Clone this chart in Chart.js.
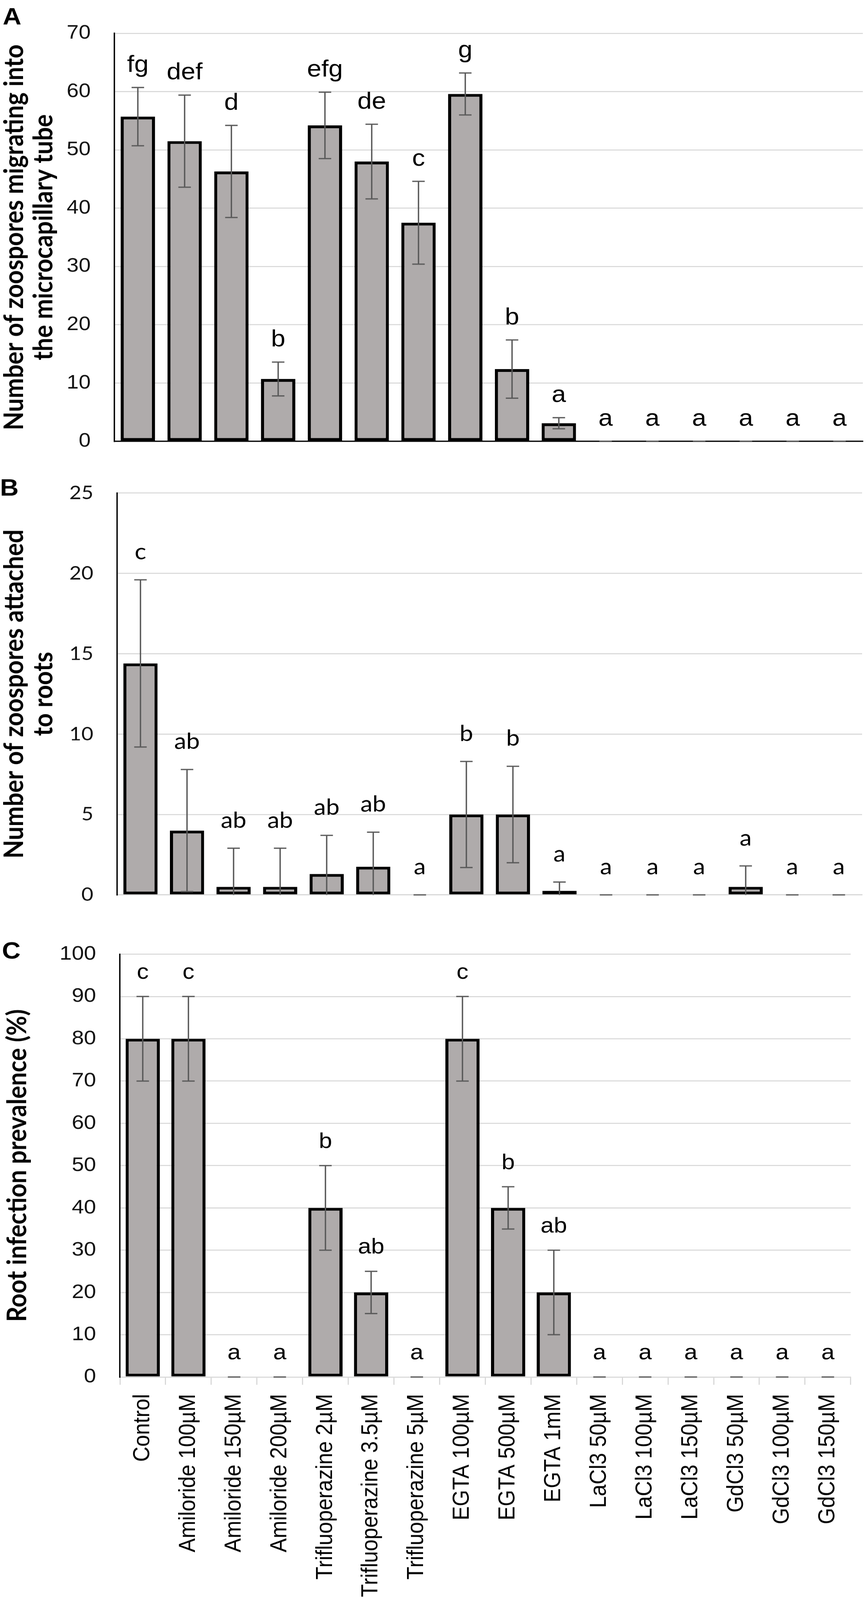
<!DOCTYPE html>
<html><head><meta charset="utf-8">
<script src="https://cdn.jsdelivr.net/npm/chart.js@4.4.1/dist/chart.umd.min.js"></script>
<style>
html,body{margin:0;padding:0;background:#fff;}
body{width:2217px;position:relative;overflow:hidden;}
canvas{position:absolute;left:0;}
</style></head><body>
<canvas id="cA"></canvas>
<canvas id="cB"></canvas>
<canvas id="cC"></canvas>
<script>
// ---------- data ----------
const categories = ['Control','Amiloride 100µM','Amiloride 150µM','Amiloride 200µM','Trifluoperazine 2µM','Trifluoperazine 3.5µM','Trifluoperazine 5µM','EGTA 100µM','EGTA 500µM','EGTA 1mM','LaCl3 50µM','LaCl3 100µM','LaCl3 150µM','GdCl3 50µM','GdCl3 100µM','GdCl3 150µM'];

const migration    = [55.7, 51.5, 46.3, 10.7, 54.2, 48.0, 37.5, 59.6, 12.4, 3.1, 0, 0, 0, 0, 0, 0];
const migrationErr = [5.0, 7.9, 7.9, 2.9, 5.7, 6.4, 7.1, 3.6, 5.0, 0.95, 0, 0, 0, 0, 0, 0];
const migrationLetters = ['fg','def','d','b','efg','de','c','g','b','a','a','a','a','a','a','a'];

const attachment    = [14.4, 4.0, 0.5, 0.5, 1.3, 1.75, 0, 5.0, 5.0, 0.25, 0, 0, 0, 0.5, 0, 0];
const attachmentErr = [5.2, 3.8, 2.4, 2.4, 2.4, 2.15, 0, 3.3, 3.0, 0.55, 0, 0, 0, 1.3, 0, 0];
const attachmentLetters = ['c','ab','ab','ab','ab','ab','a','b','b','a','a','a','a','a','a','a'];

const infection    = [80, 80, 0, 0, 40, 20, 0, 80, 40, 20, 0, 0, 0, 0, 0, 0];
const infectionErr = [10, 10, 0, 0, 10, 5, 0, 10, 5, 10, 0, 0, 0, 0, 0, 0];
const infectionLetters = ['c','c','a','a','b','ab','a','c','b','ab','a','a','a','a','a','a'];

const yTicksA = { max: 70, step: 10 };
const yTicksB = { max: 25, step: 5 };
const yTicksC = { max: 100, step: 10 };

const titleA = ['Number of zoospores migrating into', 'the microcapillary tube'];
const titleB = ['Number of zoospores attached', 'to roots'];
const titleC = 'Root infection prevalence (%)';

// ---------- page fit (the window may be shorter than the figure) ----------
const FULL_W = 2217, FULL_H = 4519;
const K = Math.min(1, (window.innerHeight || FULL_H) / FULL_H);
document.body.style.height = Math.floor(FULL_H * K) + 'px';
function place(id, top, h) {
  const c = document.getElementById(id);
  c.width = FULL_W; c.height = h;
  c.style.top = (top * K) + 'px';
  c.style.width = FULL_W + 'px';
  c.style.height = (h * K) + 'px';
}
place('cA', 0, 1340);
place('cB', 1300, 1320);
place('cC', 2600, 1919);

// ---------- font sizing so text lengths match the figure ----------
const SANS = 'Liberation Sans';
const mctx = document.createElement('canvas').getContext('2d');
function measure(font, s) { mctx.font = font; return mctx.measureText(s).width; }
const longest = 'Trifluoperazine 3.5µM';
const xSize = Math.max(50, Math.min(62, 59 * 574 / measure('59px "' + SANS + '"', longest)));
const xLabelFont = { family: SANS, size: xSize };
function titleSize(s, target) {
  return Math.max(54, Math.min(68, 62 * target / measure('bold 62px Lato', s)));
}
const titleSizeA = titleSize(titleA[0], 1120);
const titleSizeB = titleSize(titleB[0], 948);
const titleSizeC = titleSize(titleC, 916);

// ---------- styling ----------
const BAR = '#AFABAB';
const GRID = '#D9D9D9';

const errPlugin = {
  id: 'errbars',
  afterDatasetsDraw(chart, args, o) {
    const ctx = chart.ctx, xs = chart.scales.x, ys = chart.scales.y;
    ctx.save();
    ctx.strokeStyle = '#595959';
    ctx.lineWidth = 3.5;
    o.values.forEach((v, i) => {
      const px = xs.getPixelForValue(i);
      const e = o.errors[i];
      const yt = ys.getPixelForValue(v + e);
      const low = v - e;
      const yb = ys.getPixelForValue(Math.max(low, 0));
      ctx.beginPath();
      ctx.moveTo(px - 16, yt); ctx.lineTo(px + 16, yt);
      if (e > 0) {
        ctx.moveTo(px, yt); ctx.lineTo(px, yb);
        if (low > 0) { ctx.moveTo(px - 16, yb); ctx.lineTo(px + 16, yb); }
      }
      ctx.stroke();
      ctx.fillStyle = '#000';
      ctx.font = o.font;
      ctx.textAlign = 'center';
      ctx.textBaseline = 'alphabetic';
      ctx.fillText(o.letters[i], px, yt - o.gap);
    });
    ctx.restore();
  },
  afterDraw(chart, args, o) {
    const ctx = chart.ctx;
    ctx.save();
    ctx.fillStyle = '#000';
    ctx.font = 'bold 66px "Liberation Sans", Arial, sans-serif';
    ctx.textAlign = 'left';
    ctx.textBaseline = 'alphabetic';
    ctx.fillText(o.panel, o.panelX, o.panelY);
    ctx.restore();
  }
};

function makeChart(id, c) {
  return new Chart(document.getElementById(id), {
    type: 'bar',
    data: {
      labels: categories,
      datasets: [{
        data: c.values,
        backgroundColor: BAR,
        borderColor: '#000',
        borderWidth: 8,
        borderSkipped: false,
        barPercentage: c.barPct,
        categoryPercentage: 1
      }]
    },
    options: {
      responsive: false,
      devicePixelRatio: 1,
      animation: false,
      layout: { padding: { top: c.padTop, bottom: c.padBottom, left: 0, right: c.padRight } },
      plugins: {
        legend: { display: false },
        tooltip: { enabled: false },
        errbars: { values: c.values, errors: c.errors, letters: c.letters, font: c.letterFont, gap: c.gap,
                   panel: c.panel, panelX: c.panelX, panelY: c.panelY }
      },
      scales: {
        x: c.xScale,
        y: {
          min: 0, max: c.ticks.max,
          ticks: { stepSize: c.ticks.step, padding: 61, font: c.tickFont, color: '#111' },
          grid: { color: (ctx) => (ctx.tick && ctx.tick.value === 0) ? 'rgba(0,0,0,0)' : GRID, lineWidth: 3, drawTicks: false },
          border: { display: true, color: '#000', width: 3.5 },
          title: { display: true, text: c.title, color: '#000', padding: { top: c.titlePad, bottom: 0 },
                   font: { family: 'Lato', weight: 'bold', size: c.titleSize, lineHeight: 75 / c.titleSize } },
          afterFit: (s) => { s.width = c.left; }
        }
      }
    },
    plugins: [errPlugin]
  });
}

const hiddenX = (col) => ({
  ticks: { display: false },
  grid: { display: false },
  border: { display: true, color: col, width: 3.5 },
  afterFit: (s) => { s.height = 0; }
});

makeChart('cA', {
  values: migration, errors: migrationErr, letters: migrationLetters, ticks: yTicksA,
  left: 293, padTop: 84, padBottom: 36, padRight: 8, barPct: 0.735,
  tickFont: { family: SANS, size: 55 },
  letterFont: '66px "' + SANS + '"', gap: 44,
  title: titleA, titleSize: titleSizeA, titlePad: 0,
  panel: 'A', panelX: 7, panelY: 69,
  xScale: hiddenX('#000')
});

makeChart('cB', {
  values: attachment, errors: attachmentErr, letters: attachmentLetters, ticks: yTicksB,
  left: 300, padTop: 66, padBottom: 40, padRight: 10, barPct: 0.735,
  tickFont: { family: 'Lato', size: 53 },
  letterFont: '62px Lato', gap: 58,
  title: titleB, titleSize: titleSizeB, titlePad: 0,
  panel: 'B', panelX: 0, panelY: 100,
  xScale: hiddenX(GRID)
});

makeChart('cC', {
  values: infection, errors: infectionErr, letters: infectionLetters, ticks: yTicksC,
  left: 307, padTop: 74, padBottom: 0, padRight: 10, barPct: 0.75,
  tickFont: { family: SANS, size: 56 },
  letterFont: '61px "' + SANS + '"', gap: 50,
  title: titleC, titleSize: titleSizeC, titlePad: 8,
  panel: 'C', panelX: 5, panelY: 107,
  xScale: {
    ticks: { autoSkip: false, minRotation: 90, maxRotation: 90, padding: 26, color: '#000', font: xLabelFont },
    grid: { display: true, drawOnChartArea: false, drawTicks: true, tickLength: 22, color: GRID, lineWidth: 3, offset: true },
    border: { display: true, color: GRID, width: 3 },
    afterFit: (s) => { s.height = 630; }
  }
});
</script>
</body></html>
